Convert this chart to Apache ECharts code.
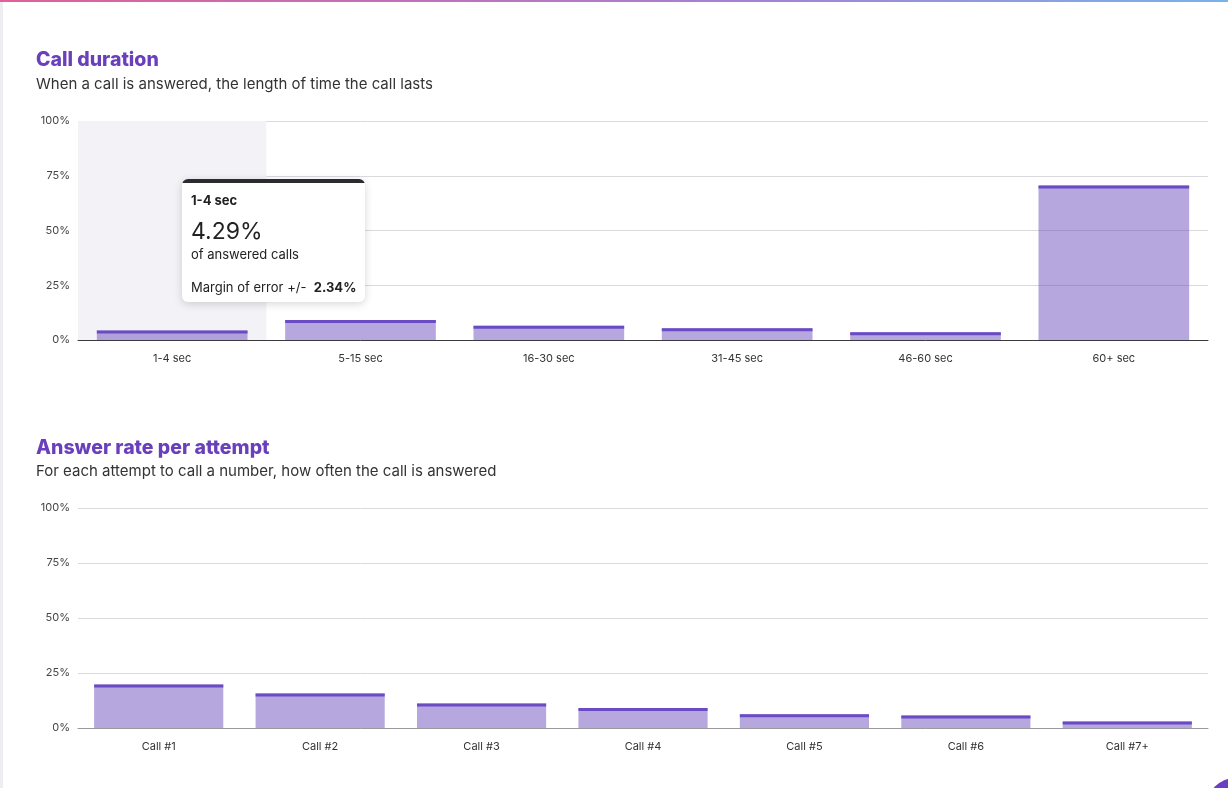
<!DOCTYPE html>
<html>
<head>
<meta charset="utf-8">
<script src="https://cdn.jsdelivr.net/npm/echarts@6/dist/echarts.min.js"></script>
<style>
html,body{margin:0;padding:0;background:#fff;}
#c{width:1228px;height:788px;}
</style>
</head>
<body>
<div id="c"></div>
<script>
// ---- data ----
const durationCategories = ['1-4 sec', '5-15 sec', '16-30 sec', '31-45 sec', '46-60 sec', '60+ sec'];
const durationValues = [4.29, 9.1, 6.5, 5.4, 3.5, 70.6];
const durationMargins = [2.34, null, null, null, null, null];
const attemptCategories = ['Call #1', 'Call #2', 'Call #3', 'Call #4', 'Call #5', 'Call #6', 'Call #7+'];
const attemptValues = [19.8, 15.7, 11.1, 9.1, 6.3, 5.7, 2.9];
const yTicks = [0, 25, 50, 75, 100];

const FONT = 'Inter, "Noto Sans", sans-serif';
const BAR_FILL = 'rgba(109,79,192,0.5)';
const BAR_TOP = '#6a4bc4';

const chart = echarts.init(document.getElementById('c'), null, {renderer: 'canvas'});

function yAxis(gridIndex) {
  return {
    type: 'value', gridIndex: gridIndex, min: yTicks[0], max: yTicks[yTicks.length - 1],
    interval: yTicks[1] - yTicks[0],
    axisLine: {show: false}, axisTick: {show: false},
    axisLabel: {formatter: '{value}%', fontSize: 11, color: '#444', margin: 8, fontFamily: FONT},
    splitLine: {lineStyle: {color: '#d9d9de', width: 1}}
  };
}
function xAxis(gridIndex, cats, lineColor) {
  return {
    type: 'category', gridIndex: gridIndex, data: cats,
    axisTick: {show: false},
    axisLine: {lineStyle: {color: lineColor, width: 1}},
    axisLabel: {fontSize: 11, color: '#333', margin: 13, fontFamily: FONT}
  };
}
function barPair(idx, values) {
  return [
    {type: 'bar', xAxisIndex: idx, yAxisIndex: idx, data: values, barWidth: '80%',
     itemStyle: {color: BAR_FILL}, emphasis: {disabled: true}, z: 2},
    {type: 'pictorialBar', xAxisIndex: idx, yAxisIndex: idx, data: values, barWidth: '80%',
     symbol: 'rect', symbolSize: ['100%', 3], symbolPosition: 'end', barGap: '-100%',
     itemStyle: {color: BAR_TOP}, emphasis: {disabled: true}, tooltip: {show: false}, z: 3}
  ];
}

const option = {
  animation: false,
  textStyle: {fontFamily: FONT},
  title: [
    {text: 'Call duration', left: 31, top: 45,
     textStyle: {fontSize: 19.5, fontWeight: 800, color: '#6a3fbb', fontFamily: FONT}},
    {text: 'When a call is answered, the length of time the call lasts', left: 31, top: 72,
     textStyle: {fontSize: 15, fontWeight: 400, color: '#333', fontFamily: FONT}},
    {text: 'Answer rate per attempt', left: 31, top: 433,
     textStyle: {fontSize: 19.5, fontWeight: 800, color: '#6a3fbb', fontFamily: FONT}},
    {text: 'For each attempt to call a number, how often the call is answered', left: 31, top: 459,
     textStyle: {fontSize: 15, fontWeight: 400, color: '#333', fontFamily: FONT}}
  ],
  grid: [
    {left: 78, right: 20, top: 121, height: 219, containLabel: false},
    {left: 78, right: 20, top: 508, height: 220, containLabel: false}
  ],
  xAxis: [xAxis(0, durationCategories, '#3a3a40'), xAxis(1, attemptCategories, '#9a9a9e')],
  yAxis: [yAxis(0), yAxis(1)],
  tooltip: {
    trigger: 'axis',
    triggerOn: 'none',
    alwaysShowContent: true,
    transitionDuration: 0,
    axisPointer: {type: 'shadow', shadowStyle: {color: '#f3f2f7', opacity: 1}, z: 0},
    position: [182, 179],
    padding: 0,
    borderWidth: 0,
    backgroundColor: '#fff',
    extraCssText: 'border-radius:6px;box-shadow:0 2px 8px rgba(0,0,0,0.16);overflow:hidden;',
    formatter: function (params) {
      const p = params[0];
      const i = p.dataIndex;
      const m = durationMargins[i];
      return '<div style="width:183px;box-sizing:border-box;border-top:4px solid #2b2b31;padding:8px 9px 6px 9px;font-family:' + FONT.replace(/"/g, "'") + ';color:#222;">' +
        '<div style="font-weight:700;font-size:13px;line-height:18px;">' + durationCategories[i] + '</div>' +
        '<div style="font-size:23px;line-height:30px;margin-top:7px;">' + durationValues[i].toFixed(2) + '%</div>' +
        '<div style="font-size:13px;line-height:16px;">of answered calls</div>' +
        '<div style="font-size:13px;line-height:18px;margin-top:16px;">Margin of error +/- &nbsp;<b>' + (m == null ? '' : m.toFixed(2) + '%') + '</b></div>' +
        '</div>';
    }
  },
  graphic: [
    {type: 'rect', left: 0, top: 0, shape: {width: 3, height: 788}, style: {fill: '#eeeef2'}, z: 100},
    {type: 'rect', left: 0, top: 0, shape: {width: 1228, height: 2},
     style: {fill: new echarts.graphic.LinearGradient(0, 0, 1, 0, [
       {offset: 0, color: '#e0609a'}, {offset: 0.6, color: '#a680d2'}, {offset: 1, color: '#79b2ea'}])}, z: 100},
    {type: 'circle', shape: {cx: 1235, cy: 806, r: 28}, style: {fill: '#6a3fc0'}, z: 100}
  ],
  series: [].concat(barPair(0, durationValues), barPair(1, attemptValues))
};
chart.setOption(option);
chart.dispatchAction({type: 'showTip', seriesIndex: 0, dataIndex: 0});
</script>
</body>
</html>
